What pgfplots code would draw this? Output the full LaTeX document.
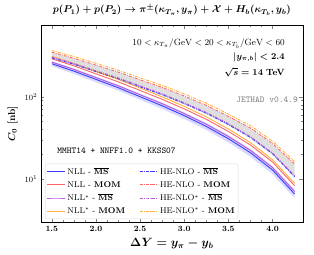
\documentclass[border=0pt]{standalone}
\usepackage{amsmath}
\usepackage{pgfplots}
\pgfplotsset{compat=1.18}
\definecolor{cblue}{RGB}{60,60,255}
\definecolor{cred}{RGB}{255,100,100}
\definecolor{cpurple}{RGB}{180,90,215}
\definecolor{corange}{RGB}{255,175,60}
\begin{document}
\begin{tikzpicture}
\begin{axis}[
  at={(0pt,0pt)}, anchor=south west,
  scale only axis, width=262pt, height=197pt,
  xmin=1.375, xmax=4.345, ymode=log, ymin=3, ymax=740,
  xtick={1.5,2.0,2.5,3.0,3.5,4.0},
  xticklabels={\textbf{1.5},\textbf{2.0},\textbf{2.5},\textbf{3.0},\textbf{3.5},\textbf{4.0}},
  minor x tick num=3,
  tick align=inside, xtick pos=both, ytick pos=both,
  major tick length=3.5pt, minor tick length=2pt,
  xticklabel style={font=\footnotesize},
  yticklabel style={font=\footnotesize},
  ytick={10,100},
  xlabel={$\boldsymbol{\Delta Y = y_\pi - y_b}$},
  xlabel style={font=\large},
  ylabel={$\boldsymbol{C_0}$ \textbf{[nb]}},
  title={$\boldsymbol{p(P_1) + p(P_2) \to \pi^{\pm}(\kappa_{T_\pi}, y_\pi) + \mathcal{X} + H_b(\kappa_{T_b}, y_b)}$},
  legend style={at={(0.016,0.019)}, anchor=south west, font=\fontsize{8.3}{9.5}\selectfont,
    draw=gray!30, fill=white, rounded corners=2pt, inner sep=1.5pt, row sep=1pt,
    /tikz/every even column/.append style={column sep=12pt}},
  legend image post style={xscale=1.05},
  legend columns=2,
  legend cell align=left,
]
% blue band (upper forward, lower backward)
\addplot[fill=cblue!20, draw=none, forget plot] coordinates {(1.5,269.2)(1.75,220.3)(2.0,175.8)(2.25,139.6)(2.5,108.9)(2.75,84.9)(3.0,64.7)(3.25,48.2)(3.5,34.3)(3.75,23.3)(4.0,14.4)(4.25,7.41)
(4.25,5.89)(4.0,11.5)(3.75,18.7)(3.5,27.9)(3.25,39.5)(3.0,53.6)(2.75,71.0)(2.5,91.8)(2.25,118.9)(2.0,149.6)(1.75,189.2)(1.5,234.4)};
% gray band
\addplot[fill=gray!25, draw=none, forget plot] coordinates {(1.5,342.8)(1.75,289.1)(2.0,238.8)(2.25,196.8)(2.5,158.5)(2.75,127.9)(3.0,100.7)(3.25,77.6)(3.5,57.0)(3.75,41.1)(4.0,26.8)(4.25,15.0)
(4.25,10.5)(4.0,19.8)(3.75,31.3)(3.5,44.9)(3.25,61.5)(3.0,80.5)(2.75,103.3)(2.5,129.1)(2.25,161.4)(2.0,197.2)(1.75,241.5)(1.5,288.4)};
\addplot[color=cblue, line width=0.9pt, forget plot] coordinates {(1.5,251.2)(1.75,204.2)(2.0,162.2)(2.25,128.8)(2.5,100)(2.75,77.6)(3.0,58.9)(3.25,43.6)(3.5,30.9)(3.75,20.9)(4.0,12.9)(4.25,6.61)};
\addplot[color=cpurple, line width=0.9pt, forget plot] coordinates {(1.5,263.0)(1.75,214.3)(2.0,170.6)(2.25,135.8)(2.5,105.7)(2.75,82.2)(3.0,62.4)(3.25,46.3)(3.5,32.9)(3.75,22.3)(4.0,13.8)(4.25,7.08)};
\addplot[color=cred, line width=0.9pt, forget plot] coordinates {(1.5,288.4)(1.75,236.6)(2.0,189.2)(2.25,151.7)(2.5,118.9)(2.75,92.9)(3.0,71.1)(3.25,53.1)(3.5,37.9)(3.75,25.9)(4.0,16.1)(4.25,8.32)};
\addplot[color=corange, line width=0.9pt, forget plot] coordinates {(1.5,309.0)(1.75,253.5)(2.0,202.8)(2.25,162.6)(2.5,127.4)(2.75,99.5)(3.0,76.2)(3.25,56.9)(3.5,40.6)(3.75,27.7)(4.0,17.2)(4.25,8.91)};
\addplot[color=cblue, line width=0.9pt, dash pattern=on 3pt off 1.2pt on 0.8pt off 1.2pt, forget plot] coordinates {(1.5,295.1)(1.75,247.2)(2.0,201.8)(2.25,165.2)(2.5,132.1)(2.75,105.7)(3.0,82.4)(3.25,63.0)(3.5,45.9)(3.75,32.0)(4.0,20.3)(4.25,10.7)};
\addplot[color=cpurple, line width=0.9pt, dash pattern=on 3pt off 1.2pt on 0.8pt off 1.2pt, forget plot] coordinates {(1.5,302.0)(1.75,252.9)(2.0,206.5)(2.25,169.0)(2.5,135.2)(2.75,108.1)(3.0,84.3)(3.25,64.4)(3.5,47.0)(3.75,32.7)(4.0,20.7)(4.25,11.0)};
\addplot[color=cred, line width=0.9pt, dash pattern=on 3pt off 1.2pt on 0.8pt off 1.2pt, forget plot] coordinates {(1.5,346.7)(1.75,292.4)(2.0,241.5)(2.25,199.1)(2.5,160.3)(2.75,129.4)(3.0,101.9)(3.25,78.5)(3.5,57.7)(3.75,41.6)(4.0,27.1)(4.25,15.2)};
\addplot[color=corange, line width=0.9pt, dash pattern=on 3pt off 1.2pt on 0.8pt off 1.2pt, forget plot] coordinates {(1.5,363.1)(1.75,306.9)(2.0,254.1)(2.25,209.9)(2.5,169.4)(2.75,136.8)(3.0,108.1)(3.25,83.4)(3.5,61.4)(3.75,44.5)(4.0,29.0)(4.25,16.3)};
\addlegendimage{color=cblue, line width=0.9pt}
\addlegendentry{NLL - $\overline{\mathbf{MS}}$}
\addlegendimage{color=cblue, line width=0.9pt, dash pattern=on 3pt off 1.2pt on 0.8pt off 1.2pt}
\addlegendentry{HE-NLO - $\overline{\mathbf{MS}}$}
\addlegendimage{color=cred, line width=0.9pt}
\addlegendentry{NLL - \textbf{MOM}}
\addlegendimage{color=cred, line width=0.9pt, dash pattern=on 3pt off 1.2pt on 0.8pt off 1.2pt}
\addlegendentry{HE-NLO - \textbf{MOM}}
\addlegendimage{color=cpurple, line width=0.9pt}
\addlegendentry{NLL$^*$ - $\overline{\mathbf{MS}}$}
\addlegendimage{color=cpurple, line width=0.9pt, dash pattern=on 3pt off 1.2pt on 0.8pt off 1.2pt}
\addlegendentry{HE-NLO$^*$ - $\overline{\mathbf{MS}}$}
\addlegendimage{color=corange, line width=0.9pt}
\addlegendentry{NLL$^*$ - \textbf{MOM}}
\addlegendimage{color=corange, line width=0.9pt, dash pattern=on 3pt off 1.2pt on 0.8pt off 1.2pt}
\addlegendentry{HE-NLO$^*$ - \textbf{MOM}}
\end{axis}
\node[anchor=east, font=\small, inner sep=0pt] at (244pt,178.5pt) {$10 < \kappa_{T_\pi}/\mathrm{GeV} < 20 < \kappa_{T_b}/\mathrm{GeV} < 60$};
\node[anchor=east, font=\small, inner sep=0pt] at (244pt,164.5pt) {$\boldsymbol{\lvert y_{\pi,b}\rvert < 2.4}$};
\node[anchor=east, font=\small, inner sep=0pt] at (244pt,149.5pt) {$\boldsymbol{\sqrt{s} = 14}$ \textbf{TeV}};
\node[anchor=east, font=\ttfamily\small, text=gray, inner sep=0pt] at (257pt,122.5pt) {JETHAD v0.4.9};
\node[anchor=west, font=\ttfamily\small, inner sep=0pt] at (16.5pt,71.7pt) {MMHT14 + NNFF1.0 + KKSS07};
\pgfresetboundingbox
\path (-40.7pt,-32.3pt) rectangle (273pt,222pt);
\end{tikzpicture}
\end{document}
